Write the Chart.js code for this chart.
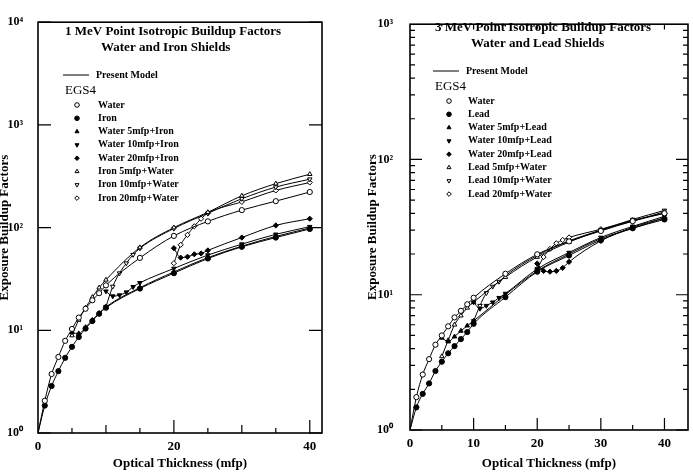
<!DOCTYPE html>
<html>
<head>
<meta charset="utf-8">
<script src="https://cdn.jsdelivr.net/npm/chart.js@4/dist/chart.umd.min.js"></script>
<style>
  html, body { margin: 0; padding: 0; background: #fff; }
  #wrap { position: relative; width: 693px; height: 473px; overflow: hidden; }
  .box { position: absolute; top: 0; height: 473px; }
</style>
</head>
<body>
<div id="wrap">
  <div class="box" style="left:0;width:345px"><canvas id="c1"></canvas></div>
  <div class="box" style="left:345px;width:348px"><canvas id="c2"></canvas></div>
</div>
<script>
// ---- 1 MeV, water and iron (left panel) ----
const depthFull = [0, 1, 2, 3, 4, 5, 6, 7, 8, 9, 10, 15, 20, 25, 30, 35, 40];
const depthFrom5 = [5, 6, 7, 8, 9, 10, 15, 20, 25, 30, 35, 40];
const depthFrom10 = [10, 11, 12, 13, 14, 15, 20, 25, 30, 35, 40];
const depthFrom20 = [20, 21, 22, 23, 24, 25, 30, 35, 40];

const water1 = [1, 2.06, 3.75, 5.5, 7.9, 10.3, 13.3, 16.2, 19.6, 23, 27.4, 50.7, 83, 115, 148, 181, 222];
const iron1 = [1, 1.85, 2.87, 4.0, 5.4, 6.9, 8.6, 10.4, 12.3, 14.5, 16.6, 25.5, 36, 50, 65, 80, 97];
const water5Iron = [9.5, 9.3, 10.7, 12.6, 14.7, 16.9, 26, 37, 51, 66, 82, 99];
const water10Iron = [24, 21.5, 22, 23.5, 26.5, 29, 40, 54, 69, 86, 102];
const water20Iron = [63, 51, 52, 55, 56, 60, 80, 105, 122];
const iron5Water = [8.9, 12.6, 16.6, 21, 26, 31, 64, 100, 141, 204, 268, 331];
const iron10Water = [17, 26.7, 36, 45, 54.5, 63, 98, 138, 191, 248, 296];
const iron20Water = [45, 68, 85, 103, 122, 138, 178, 230, 275];

// ---- 3 MeV, water and lead (right panel) ----
const water3 = [1, 1.75, 2.57, 3.34, 4.27, 5.0, 5.84, 6.8, 7.6, 8.5, 9.5, 14.3, 19.9, 24.8, 29.6, 35, 40];
const lead3 = [1, 1.47, 1.85, 2.21, 2.73, 3.2, 3.69, 4.17, 4.7, 5.3, 6.1, 9.6, 14.8, 19.5, 25.4, 31, 36];
const water5Lead = [4.8, 4.5, 4.9, 5.4, 5.9, 6.4, 10, 15, 20, 26, 31, 37];
const water10Lead = [8.8, 7.9, 8.3, 8.8, 9.5, 10.2, 15.5, 20.5, 26.5, 32, 38];
const water20Lead = [17, 15, 14.8, 15, 15.8, 17.5, 25, 31.5, 37];
const lead5Water = [3.5, 4.6, 6.0, 7.0, 8.0, 8.8, 13.5, 19, 24.5, 30, 35, 41];
const lead10Water = [6.4, 8.3, 10.3, 11.5, 12.5, 13.8, 19.5, 25, 30, 36, 42];
const lead20Water = [15.5, 19, 21.8, 24, 25.4, 26.5, 30.5, 35.5, 40];

// ---- ticks ----
const xTicksLeft = [0, 20, 40];
const xTicksRight = [0, 10, 20, 30, 40];
const yTicksLeft = [1, 10, 100, 1000, 10000];
const yLabelsLeft = ['10⁰', '10¹', '10²', '10³', '10⁴'];
const yTicksRight = [1, 10, 100, 1000];
const yLabelsRight = ['10⁰', '10¹', '10²', '10³'];

const SERIF = "'Liberation Serif', 'Times New Roman', serif";

function series(label, xs, ys, pointStyle, filled, rotation) {
  return { label, xs, ys, pointStyle, filled, rotation: rotation || 0 };
}

const leftSeries = [
  series('Water', depthFull, water1, 'circle', false),
  series('Iron', depthFull, iron1, 'circle', true),
  series('Water 5mfp+Iron', depthFrom5, water5Iron, 'triangle', true),
  series('Water 10mfp+Iron', depthFrom10, water10Iron, 'triangle', true, 180),
  series('Water 20mfp+Iron', depthFrom20, water20Iron, 'rectRot', true),
  series('Iron 5mfp+Water', depthFrom5, iron5Water, 'triangle', false),
  series('Iron 10mfp+Water', depthFrom10, iron10Water, 'triangle', false, 180),
  series('Iron 20mfp+Water', depthFrom20, iron20Water, 'rectRot', false)
];

const rightSeries = [
  series('Water', depthFull, water3, 'circle', false),
  series('Lead', depthFull, lead3, 'circle', true),
  series('Water 5mfp+Lead', depthFrom5, water5Lead, 'triangle', true),
  series('Water 10mfp+Lead', depthFrom10, water10Lead, 'triangle', true, 180),
  series('Water 20mfp+Lead', depthFrom20, water20Lead, 'rectRot', true),
  series('Lead 5mfp+Water', depthFrom5, lead5Water, 'triangle', false),
  series('Lead 10mfp+Water', depthFrom10, lead10Water, 'triangle', false, 180),
  series('Lead 20mfp+Water', depthFrom20, lead20Water, 'rectRot', false)
];

function drawMark(ctx, s, x, y, r) {
  ctx.save();
  ctx.fillStyle = s.filled ? '#000' : '#fff';
  ctx.strokeStyle = '#000';
  ctx.lineWidth = 1;
  if (Chart.helpers && Chart.helpers.drawPoint) {
    Chart.helpers.drawPoint(ctx, { pointStyle: s.pointStyle, rotation: s.rotation, radius: r, borderWidth: 1 }, x, y);
  } else {
    ctx.beginPath(); ctx.arc(x, y, r, 0, Math.PI * 2); ctx.fill(); ctx.stroke();
  }
  ctx.restore();
}

// frame, inward ticks, titles and legend drawn over the chart area
const panelDecor = {
  id: 'panelDecor',
  afterDraw(chart) {
    const p = chart.options.plugins.panelDecor;
    const ctx = chart.ctx;
    const a = chart.chartArea;
    const xs = chart.scales.x, ys = chart.scales.y;
    ctx.save();
    ctx.strokeStyle = '#000';
    ctx.lineWidth = 1.6;
    ctx.strokeRect(a.left, a.top, a.right - a.left, a.bottom - a.top);
    ctx.lineWidth = 1.2;
    ctx.beginPath();
    p.xMarks.forEach(([v, len]) => {
      const px = xs.getPixelForValue(v);
      ctx.moveTo(px, a.bottom); ctx.lineTo(px, a.bottom - len);
      if (p.topMarks) { ctx.moveTo(px, a.top); ctx.lineTo(px, a.top + p.topMarks * len); }
    });
    p.yMarks.forEach(([v, len]) => {
      const py = ys.getPixelForValue(v);
      ctx.moveTo(a.left, py); ctx.lineTo(a.left + len, py);
      ctx.moveTo(a.right, py); ctx.lineTo(a.right - len, py);
    });
    ctx.stroke();

    ctx.fillStyle = '#000';
    ctx.textBaseline = 'middle';
    ctx.textAlign = 'left';
    ctx.font = 'bold 13px ' + SERIF;
    ctx.fillText(p.title[0], p.titlePos[0][0], p.titlePos[0][1]);
    ctx.fillText(p.title[1], p.titlePos[1][0], p.titlePos[1][1]);

    const L = p.legend;
    ctx.lineWidth = 1;
    ctx.beginPath();
    ctx.moveTo(L.lineX, L.modelY); ctx.lineTo(L.lineX + 26, L.modelY);
    ctx.stroke();
    ctx.font = 'bold 10px ' + SERIF;
    ctx.fillText('Present Model', L.lineX + 33, L.modelY);
    ctx.font = '13px ' + SERIF;
    ctx.fillText('EGS4', L.lineX + 2, L.egsY);
    ctx.font = 'bold 10px ' + SERIF;
    p.entries.forEach((s, i) => {
      const y = L.firstY + i * L.step;
      drawMark(ctx, s, L.markX, y, 2.3);
      ctx.fillText(s.label, L.textX, y);
    });
    ctx.restore();
  }
};

function makeChart(id, list, o) {
  const datasets = list.map(s => ({
    label: s.label,
    data: s.xs.map((x, i) => ({ x, y: s.ys[i] })),
    borderColor: '#000',
    borderWidth: 1,
    pointStyle: s.pointStyle,
    pointRotation: s.rotation,
    pointBackgroundColor: s.filled ? '#000' : '#fff',
    pointBorderColor: '#000',
    pointBorderWidth: 1,
    pointRadius: c => (c.raw && c.raw.x === 0 ? 0 : 2.6),
    cubicInterpolationMode: 'monotone',
    fill: false
  }));
  const font = { family: SERIF, size: 13, weight: 'bold' };
  return new Chart(document.getElementById(id), {
    type: 'line',
    data: { datasets },
    plugins: [panelDecor],
    options: {
      responsive: true,
      maintainAspectRatio: false,
      animation: false,
      layout: { padding: o.padding },
      plugins: {
        legend: { display: false },
        tooltip: { enabled: false },
        panelDecor: o.decor
      },
      scales: {
        x: {
          type: 'linear',
          min: 0,
          max: o.xMax,
          afterBuildTicks: s => { s.ticks = o.xTicks.map(v => ({ value: v })); },
          afterFit: s => { s.height = o.xHeight; },
          grid: { display: false, drawTicks: false },
          border: { display: false },
          ticks: { color: '#000', font, padding: 6, maxRotation: 0, callback: v => String(v) },
          title: { display: true, text: 'Optical Thickness (mfp)', color: '#000', font, padding: { top: 0, bottom: 2 } }
        },
        y: {
          type: 'logarithmic',
          min: 1,
          max: o.yMax,
          afterBuildTicks: s => { s.ticks = o.yTicks.map(v => ({ value: v })); },
          afterFit: s => { s.width = o.yWidth; },
          grid: { display: false, drawTicks: false },
          border: { display: false },
          ticks: { color: '#000', font: { family: SERIF, size: 12, weight: 'bold' }, padding: o.yPad,
                   callback: (v, i) => o.yLabels[i] },
          title: { display: true, text: 'Exposure Buildup Factors', color: '#000', font, padding: { top: o.yTitlePad, bottom: 0 } }
        }
      }
    }
  });
}

const leftXMarks = [[0, 0], [5, 5], [10, 8], [15, 5], [20, 13], [25, 5], [30, 8], [35, 5], [40, 13]];
const leftYMarks = yTicksLeft.map(v => [v, 13]);
const rightXMarks = [[5, 5], [10, 12], [15, 5], [20, 12], [25, 5], [30, 12], [35, 5], [40, 12]];
const rightYMarks = [];
[1, 10, 100].forEach(d => {
  rightYMarks.push([d, 12]);
  for (let m = 2; m <= 9; m++) rightYMarks.push([m * d, 5]);
});

makeChart('c1', leftSeries, {
  padding: { left: 0, right: 23, top: 12, bottom: 0 },
  xMax: 41.8, yMax: 10000, xTicks: xTicksLeft, yTicks: yTicksLeft, yLabels: yLabelsLeft,
  xHeight: 40, yWidth: 38, yPad: 15, yTitlePad: -3,
  decor: {
    xMarks: leftXMarks, yMarks: leftYMarks, topMarks: 0,
    title: ['1 MeV Point Isotropic Buildup Factors', 'Water and Iron Shields'],
    titlePos: [[65, 32], [101, 48]],
    legend: { lineX: 63, modelY: 75, egsY: 91, markX: 77, textX: 98, firstY: 105, step: 13.3 },
    entries: leftSeries
  }
});

makeChart('c2', rightSeries, {
  padding: { left: 0, right: 1, top: 9, bottom: 0 },
  xMax: 43.7, yMax: 1000, xTicks: xTicksRight, yTicks: yTicksRight, yLabels: yLabelsRight,
  xHeight: 43, yWidth: 65, yPad: 17, yTitlePad: 20,
  decor: {
    xMarks: rightXMarks, yMarks: rightYMarks, topMarks: 0.45,
    title: ['3 MeV Point Isotropic Buildup Factors', 'Water and Lead Shields'],
    titlePos: [[90, 28], [126, 44]],
    legend: { lineX: 88, modelY: 71, egsY: 87, markX: 104, textX: 123, firstY: 101, step: 13.3 },
    entries: rightSeries
  }
});
</script>
</body>
</html>
